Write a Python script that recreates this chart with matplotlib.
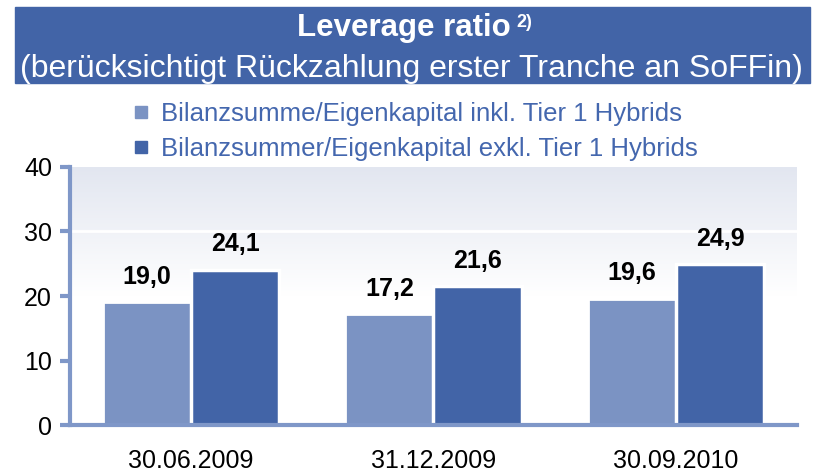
import matplotlib
matplotlib.use("Agg")
import matplotlib.pyplot as plt
import numpy as np
from matplotlib.patches import Rectangle
from matplotlib.lines import Line2D
from matplotlib.colors import LinearSegmentedColormap

categories = ["30.06.2009", "31.12.2009", "30.09.2010"]
series_names = ["Bilanzsumme/Eigenkapital inkl. Tier 1 Hybrids",
                "Bilanzsummer/Eigenkapital exkl. Tier 1 Hybrids"]
incl_values = [19.0, 17.2, 19.6]
excl_values = [24.1, 21.6, 24.9]
y_ticks = [0, 10, 20, 30, 40]

plt.rcParams['font.family'] = ['Liberation Sans', 'DejaVu Sans']

light = "#7B93C3"
dark = "#4264A7"
band = "#4264A7"
spine_c = "#7F97C8"
W, H = 816, 473

fig = plt.figure(figsize=(W/100, H/100), dpi=100)

def fx(px):
    return px / W

def fy(py):
    return 1 - py / H

# title band
fig.patches.append(Rectangle((fx(15), fy(83)), fx(810) - fx(15), fy(7) - fy(83),
                             transform=fig.transFigure, color=band, zorder=0))
fig.text(fx(511), fy(36), "Leverage ratio", ha="right", va="baseline",
         color="white", fontsize=22.5, fontweight="bold")
fig.text(fx(516), fy(27), "2)", ha="left", va="baseline",
         color="white", fontsize=13, fontweight="bold")
fig.text(fx(411.5), fy(77), "(berücksichtigt Rückzahlung erster Tranche an SoFFin)",
         ha="center", va="baseline", color="white", fontsize=23)

ax = fig.add_axes([fx(70), fy(425), fx(797) - fx(70), fy(167) - fy(425)])
x = np.arange(len(categories))
w = 0.364

# gradient background
grad = np.linspace(0, 1, 256).reshape(-1, 1)
cmap = LinearSegmentedColormap.from_list("bg", ["#FFFFFF", "#FFFFFF", "#E2E6F0"])
ax.imshow(grad, aspect="auto", cmap=cmap, origin="lower",
          extent=(-0.5, 2.5, 0, 40), zorder=0)
for t in y_ticks[1:-1]:
    ax.axhline(t, color="white", lw=2, zorder=1)

ax.bar(x - w/2, incl_values, w, color=light, edgecolor="white", lw=2, zorder=2)
ax.bar(x + w/2, excl_values, w, color=dark, edgecolor="white", lw=2.5, zorder=3)
for xs, vals in ((x - w/2, incl_values), (x + w/2, excl_values)):
    for xi, v in zip(xs, vals):
        ax.text(xi, v + 3.9, f"{v:.1f}".replace(".", ","), ha="center", va="center",
                fontsize=18, fontweight="bold", color="black")

ax.set_xlim(-0.5, 2.5)
ax.set_ylim(0, 40)
ax.set_yticks(y_ticks)
ax.set_yticklabels([str(t) for t in y_ticks], fontsize=18)
ax.set_xticks(x)
ax.set_xticklabels(categories, fontsize=18)
ax.tick_params(axis="x", length=0, pad=17)
ax.tick_params(axis="y", length=7, width=3, color=spine_c, pad=6, direction="out")
for s in ["top", "right"]:
    ax.spines[s].set_visible(False)
for s in ["left", "bottom"]:
    ax.spines[s].set_color(spine_c)
    ax.spines[s].set_linewidth(3)
    ax.spines[s].set_zorder(4)

handles = [Line2D([], [], marker="s", ls="", color=light, markersize=8.5),
           Line2D([], [], marker="s", ls="", color=dark, markersize=8.5)]
leg = fig.legend(handles, series_names, loc="upper left",
                 bbox_to_anchor=(fx(131), fy(102)), frameon=False, borderpad=0,
                 borderaxespad=0, fontsize=18.5, handletextpad=0.35,
                 labelspacing=0.42, handlelength=0.8)
for t in leg.get_texts():
    t.set_color("#4467AE")

fig.savefig("out.png", dpi=100)
